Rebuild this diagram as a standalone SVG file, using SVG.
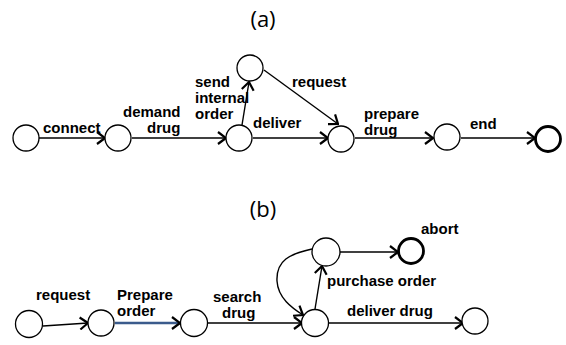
<svg xmlns="http://www.w3.org/2000/svg" width="566" height="345" viewBox="0 0 566 345">
<style>
.n{fill:#fff;stroke:#000;stroke-width:1.3}
.f{fill:#fff;stroke:#000;stroke-width:2.8}
.e{fill:none;stroke:#000;stroke-width:1.4}
.l{font-family:"Liberation Sans",Arial,sans-serif;font-weight:bold;font-size:15px;fill:#000}
.t{font-family:"Open Sans","Liberation Sans",sans-serif;font-size:22px;fill:#000}
</style>
<defs>
<marker id="a" markerUnits="userSpaceOnUse" viewBox="0 0 10 14" markerWidth="10" markerHeight="14" refX="9" refY="7" orient="auto">
<path d="M1,1 L9,7 L1,13" fill="none" stroke="#000" stroke-width="2.2"/>
</marker>
</defs>
<rect width="566" height="345" fill="#fff"/>
<text class="t" x="263" y="27" text-anchor="middle">(a)</text>
<text class="t" x="263" y="217" text-anchor="middle">(b)</text>
<g id="edges">
<line class="e" x1="39" y1="138" x2="105" y2="138" marker-end="url(#a)"/>
<line class="e" x1="132" y1="138" x2="226" y2="138" marker-end="url(#a)"/>
<line class="e" x1="242" y1="125" x2="249" y2="82" marker-end="url(#a)"/>
<line class="e" x1="253" y1="138" x2="328" y2="138" marker-end="url(#a)"/>
<line class="e" x1="264" y1="70" x2="338" y2="124" marker-end="url(#a)"/>
<line class="e" x1="355" y1="138" x2="433" y2="138" marker-end="url(#a)"/>
<line class="e" x1="461" y1="138" x2="535" y2="138" marker-end="url(#a)"/>
<line class="e" x1="43" y1="326" x2="88" y2="323" marker-end="url(#a)"/>
<line x1="115" y1="323" x2="180" y2="323" fill="none" stroke="#3B5B8C" stroke-width="2.4" marker-end="url(#a)"/>
<line class="e" x1="208" y1="323" x2="302" y2="323" marker-end="url(#a)"/>
<line class="e" x1="315" y1="309" x2="322" y2="266" marker-end="url(#a)"/>
<line class="e" x1="340" y1="252" x2="398" y2="252" marker-end="url(#a)"/>
<path class="e" d="M312,249 C290,254 276,260 277,281 C278,298 292,308 303,315" marker-end="url(#a)"/>
<line class="e" x1="329" y1="323" x2="463" y2="323" marker-end="url(#a)"/>
</g>
<g id="labels">
<text class="l" x="43" y="133">connect</text>
<text class="l" x="123" y="117">demand</text>
<text class="l" x="147" y="133">drug</text>
<text class="l" x="195" y="87">send</text>
<text class="l" x="195" y="103">internal</text>
<text class="l" x="195" y="119">order</text>
<text class="l" x="253" y="128">deliver</text>
<text class="l" x="292" y="87">request</text>
<text class="l" x="364" y="119">prepare</text>
<text class="l" x="364" y="135">drug</text>
<text class="l" x="470" y="129">end</text>
<text class="l" x="36" y="300">request</text>
<text class="l" x="117" y="300">Prepare</text>
<text class="l" x="117" y="316">order</text>
<text class="l" x="213" y="302">search</text>
<text class="l" x="222" y="318">drug</text>
<text class="l" x="327" y="286">purchase order</text>
<text class="l" x="421" y="234">abort</text>
<text class="l" x="347" y="316">deliver drug</text>
</g>
<g id="a1"><circle class="n" cx="26" cy="138" r="13"/></g>
<g id="a2"><circle class="n" cx="118" cy="138" r="13"/></g>
<g id="a3"><circle class="n" cx="239" cy="138" r="13"/></g>
<g id="a4"><circle class="n" cx="250" cy="68" r="13"/></g>
<g id="a5"><circle class="n" cx="341" cy="139" r="13"/></g>
<g id="a6"><circle class="n" cx="447" cy="137" r="13"/></g>
<g id="a7"><circle class="f" cx="548" cy="139" r="12.5"/></g>
<g id="b1"><circle class="n" cx="29" cy="324" r="13.5"/></g>
<g id="b2"><circle class="n" cx="101" cy="323" r="13"/></g>
<g id="b3"><circle class="n" cx="194" cy="323" r="13.5"/></g>
<g id="b4"><circle class="n" cx="315" cy="323" r="13.5"/></g>
<g id="b5"><circle class="n" cx="326" cy="252" r="14"/></g>
<g id="b6"><circle class="f" cx="411" cy="251" r="12.5"/></g>
<g id="b7"><circle class="n" cx="475" cy="321" r="13"/></g>
</svg>
